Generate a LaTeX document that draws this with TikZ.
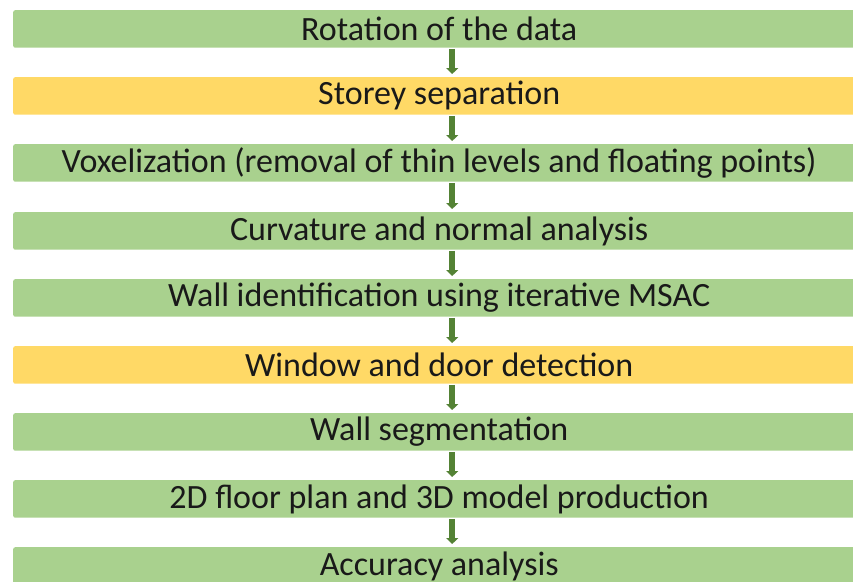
\documentclass[tikz,border=0pt]{standalone}
\usepackage{fontspec}
\setmainfont{Carlito}
\usetikzlibrary{arrows.meta}
\definecolor{stepgreen}{HTML}{A9D18E}
\definecolor{stepyellow}{HTML}{FFD966}
\definecolor{arrowgreen}{HTML}{548235}
\tikzset{
  stepbar/.style={rectangle, rounded corners=2pt, minimum width=852pt, minimum height=37.5pt,
    inner sep=0pt, anchor=north west, font=\fontsize{34pt}{36pt}\selectfont, text=black!90},
  greenbar/.style={stepbar, fill=stepgreen},
  yellowbar/.style={stepbar, fill=stepyellow},
  flowarrow/.style={draw=arrowgreen, line width=6.5pt, shorten <=1pt, shorten >=3pt,
    -{Triangle[width=12pt,length=6pt]}},
}
\begin{document}
\begin{tikzpicture}[x=1pt,y=1pt]
  \useasboundingbox (0,0) rectangle (853,-581);
  \begin{scope}
    \clip (0,0) rectangle (853,-581);
    \node[greenbar]  (s1) at (13,-10)  {Rotation of the data};
    \node[yellowbar] (s2) at (13,-77)  {Storey separation};
    \node[greenbar]  (s3) at (13,-144) {Voxelization (removal of thin levels and floating points)};
    \node[greenbar]  (s4) at (13,-212) {Curvature and normal analysis};
    \node[greenbar]  (s5) at (13,-279) {Wall identification using iterative MSAC};
    \node[yellowbar] (s6) at (13,-346) {Window and door detection};
    \node[greenbar]  (s7) at (13,-413) {Wall segmentation};
    \node[greenbar]  (s8) at (13,-480) {2D floor plan and 3D model production};
    \node[greenbar]  (s9) at (13,-547) {Accuracy analysis};
    \foreach \a/\b in {s1/s2,s2/s3,s3/s4,s4/s5,s5/s6,s6/s7,s7/s8,s8/s9}
      \draw[flowarrow] ([xshift=13pt]\a.south) -- ([xshift=13pt]\b.north);
  \end{scope}
\end{tikzpicture}
\end{document}
